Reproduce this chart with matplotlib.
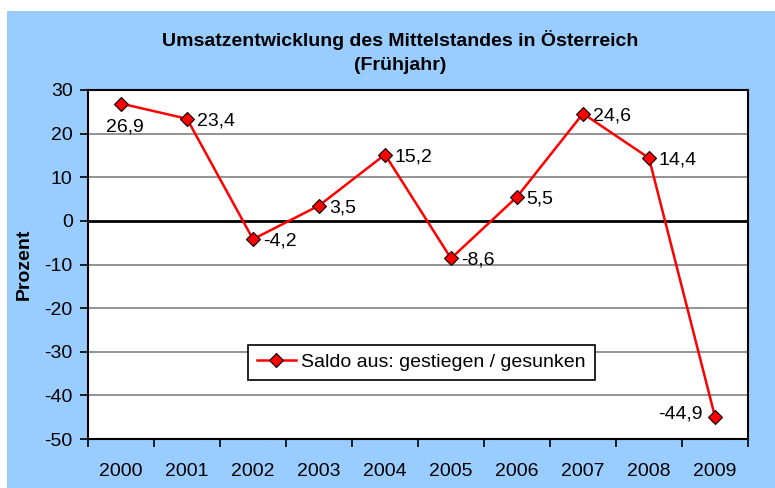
import matplotlib
matplotlib.use("Agg")
import matplotlib.pyplot as plt
from matplotlib.patches import Rectangle

plt.rcParams['font.family'] = ['Liberation Sans', 'DejaVu Sans']

years = ["2000", "2001", "2002", "2003", "2004", "2005", "2006", "2007", "2008", "2009"]
values = [26.9, 23.4, -4.2, 3.5, 15.2, -8.6, 5.5, 24.6, 14.4, -44.9]
labels = ["26,9", "23,4", "-4,2", "3,5", "15,2", "-8,6", "5,5", "24,6", "14,4", "-44,9"]
yticks = [30, 20, 10, 0, -10, -20, -30, -40, -50]

W, H = 775, 488
FS = 14
fig = plt.figure(figsize=(W / 100, H / 100), dpi=100)
fig.patch.set_facecolor("white")
fig.patches.append(Rectangle((7 / W, 0), 1 - 7 / W, 1 - 11 / H, transform=fig.transFigure,
                             facecolor="#99CCFF", edgecolor="none", zorder=-10))

ax = fig.add_axes([88 / W, 1 - 439 / H, (748 - 88) / W, (439 - 90) / H])
ax.set_facecolor("white")
x = list(range(len(years)))
ax.set_xlim(-0.5, len(years) - 0.5)
ax.set_ylim(-50, 30)
ax.set_yticks(yticks)
ax.set_yticklabels([str(t) for t in yticks], fontsize=FS)
for t in yticks:
    if t not in (30, -50, 0):
        ax.axhline(t, color="#808080", lw=1.2, zorder=1)
ax.axhline(0, color="black", lw=2, zorder=2)

ax.set_xticks([i - 0.5 for i in range(len(years) + 1)])
ax.set_xticklabels([])
ax.set_xticks(x, minor=True)
ax.set_xticklabels(years, minor=True, fontsize=FS)
ax.tick_params(axis="x", which="minor", length=0, pad=17)
ax.tick_params(axis="x", which="major", length=6, width=1.2, direction="out")
ax.tick_params(axis="y", length=6, width=1.2, direction="out", pad=5)

for s in ax.spines.values():
    s.set_color("black")
    s.set_linewidth(1.5)

ax.plot(x, values, color="#FF0000", lw=1.8, marker="D", markersize=7.5,
        markerfacecolor="#FF0000", markeredgecolor="black", markeredgewidth=0.8,
        zorder=5, label="Saldo aus: gestiegen / gesunken")

for i, (v, lab) in enumerate(zip(values, labels)):
    if i == 0:
        ax.annotate(lab, (i, v), xytext=(3, -17), textcoords="offset points",
                    ha="center", va="center", fontsize=FS)
    elif i == len(values) - 1:
        ax.annotate(lab, (i, v), xytext=(-9, 2), textcoords="offset points",
                    ha="right", va="center", fontsize=FS)
    else:
        ax.annotate(lab, (i, v), xytext=(7, -1.5), textcoords="offset points",
                    ha="left", va="center", fontsize=FS)

leg = ax.legend(loc="center", bbox_to_anchor=(0.505, 0.22), fontsize=FS, frameon=True,
                fancybox=False, edgecolor="black", framealpha=1, borderpad=0.45,
                handlelength=2.0, handletextpad=0.3)
leg.get_frame().set_linewidth(1.2)

ax.set_ylabel("Prozent", fontsize=FS, fontweight="bold", labelpad=8)
fig.text(400 / W, 1 - 40 / H, "Umsatzentwicklung des Mittelstandes in Österreich",
         ha="center", va="center", fontsize=14, fontweight="bold")
fig.text(400 / W, 1 - 65 / H, "(Frühjahr)", ha="center", va="center",
         fontsize=14, fontweight="bold")

fig.savefig("out.png", dpi=100)
